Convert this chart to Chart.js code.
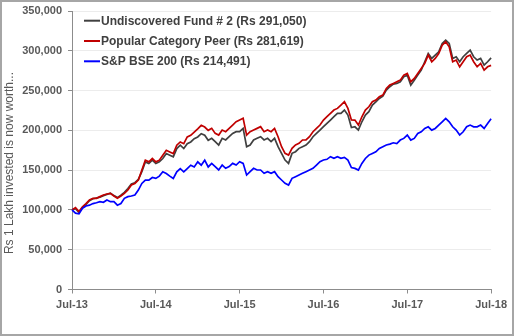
<!DOCTYPE html>
<html>
<head>
<meta charset="utf-8">
<script src="https://cdn.jsdelivr.net/npm/chart.js@4.4.1/dist/chart.umd.min.js"></script>
<style>
  html, body { margin: 0; padding: 0; background: #fff; }
  #wrap { width: 514px; height: 336px; box-sizing: border-box; border: 2px solid #a6a6a6; }
  canvas { display: block; }
</style>
</head>
<body>
<div id="wrap"><canvas id="perfChart" width="510" height="332"></canvas></div>
<script>
// half-monthly readings, Jul-13 .. Jul-18 (121 points)
const monthNames = ["Jan", "Feb", "Mar", "Apr", "May", "Jun", "Jul", "Aug", "Sep", "Oct", "Nov", "Dec"];
const dates = [];
for (let i = 0; i <= 120; i++) {
    const m = (6 + Math.floor(i / 2)) % 12;
    const yr = 13 + Math.floor((6 + Math.floor(i / 2)) / 12);
    dates.push((i % 2 ? "16-" : "01-") + monthNames[m] + "-" + yr);
}
const tickLabels = ["Jul-13", "Jul-14", "Jul-15", "Jul-16", "Jul-17", "Jul-18"];

const seriesNames = [
    "Undiscovered Fund # 2 (Rs 291,050)",
    "Popular Category Peer (Rs 281,619)",
    "S&P BSE 200 (Rs 214,491)"
];
const yTitle = "Rs 1 Lakh invested is now worth...";

const fund = [
    100000, 101500, 97000, 103000, 107000, 111500, 114000, 115000, 116000, 118000,
    119500, 121000, 118000, 115500, 118500, 122000, 127000, 132500, 134200, 138300,
    148000, 160400, 158300, 162500, 158300, 160400, 164600, 170800, 168800, 166700,
    177100, 181300, 177100, 183300, 185400, 189600, 191700, 195800, 193800, 187500,
    190000, 185800, 181600, 190000, 187900, 192000, 196200, 198300, 198300, 202500,
    179500, 181600, 187900, 190000, 192000, 187900, 190000, 185800, 190000, 179500,
    171100, 162700, 158500, 171100, 173200, 177400, 179500, 181600, 185800, 192000,
    196200, 200400, 204600, 208800, 213000, 217200, 221400, 221400, 225500, 219300,
    203500, 204500, 200300, 210800, 219200, 223400, 231700, 235900, 240100, 243000,
    250600, 254800, 258100, 259000, 261100, 267300, 269400, 256900, 263100, 269400,
    275700, 286200, 296600, 290400, 294600, 298700, 309200, 313400, 309200, 290400,
    292500, 286200, 292500, 296600, 300800, 292500, 288300, 290400, 282000, 286200,
    291050];

const peer = [
    100000, 103000, 98000, 104000, 108000, 112500, 114600, 114600, 116700, 118800,
    120000, 120800, 117500, 114600, 117500, 120800, 125000, 131300, 133300, 137500,
    150000, 162500, 160400, 164600, 160400, 162500, 168800, 175000, 172900, 170800,
    181300, 185400, 183300, 191700, 193800, 197900, 202000, 206300, 204200, 200000,
    202500, 196200, 194100, 200400, 198300, 202500, 206700, 210900, 213000, 215100,
    194100, 198300, 200400, 202500, 204600, 198300, 200400, 198300, 202500, 192000,
    179500, 171100, 169000, 177400, 181600, 183700, 187900, 187900, 192000, 198300,
    202500, 206700, 213000, 217200, 221400, 225500, 227600, 231800, 236000, 227600,
    213000, 212900, 206600, 217100, 225500, 229600, 235900, 238000, 242200, 244300,
    252700, 256900, 259000, 261100, 263100, 269400, 271500, 261100, 265200, 271500,
    277800, 284100, 294600, 286200, 290400, 296600, 307100, 311300, 305000, 286200,
    288300, 279900, 286200, 292500, 294600, 286200, 279900, 284100, 275700, 279900,
    281619];

const bse = [
    100000, 96000, 95000, 102000, 105000, 106000, 108000, 109000, 110400, 109600,
    112500, 110400, 110400, 106000, 108000, 114600, 116700, 117500, 118800, 125000,
    133300, 137500, 137500, 140800, 139600, 142500, 147900, 145800, 142500, 139600,
    147900, 152000, 147900, 152000, 156200, 154000, 160400, 156200, 162500, 154000,
    158500, 154400, 150200, 156400, 152300, 154400, 158500, 156400, 160600, 158500,
    143900, 148100, 152300, 150200, 150200, 146000, 148100, 146000, 148100, 141800,
    137600, 133400, 131300, 139700, 141800, 143900, 146000, 148100, 150200, 152300,
    156400, 160600, 162700, 163600, 166900, 164800, 166900, 164800, 166100, 162700,
    153300, 152200, 150100, 158400, 164700, 168900, 171000, 173100, 177300, 179400,
    181600, 182700, 184400, 183500, 187800, 189900, 194100, 187800, 189900, 196100,
    198200, 202400, 204500, 200300, 202400, 206600, 210800, 215000, 210800, 204500,
    200300, 194100, 198200, 204500, 206600, 204500, 204500, 206600, 202400, 208700,
    214491];

const colors = ["#404040", "#c00000", "#0000ff"];
const axisGray = "#8c8c8c";
const textGray = "#595959";
const fontFamily = "'Liberation Sans', Arial, sans-serif";

// which label index gets a year tick (every 24 half-months)
const yearTick = i => (i % 24 === 0 ? tickLabels[i / 24] : null);

// legend inside the plot (line sample + bold text) and the y title
const extras = {
    id: "extras",
    afterDatasetsDraw(chart) {
        const c = chart.ctx;
        const x0 = 82, y0 = 18.7, gap = 20.3;
        c.save();
        c.font = "bold 12px " + fontFamily;
        c.textBaseline = "middle";
        chart.data.datasets.forEach((ds, i) => {
            const y = y0 + i * gap;
            c.strokeStyle = ds.borderColor;
            c.lineWidth = 2;
            c.beginPath();
            c.moveTo(x0, y);
            c.lineTo(x0 + 16, y);
            c.stroke();
            c.fillStyle = "#404040";
            c.fillText(ds.label, x0 + 17, y + 0.5);
        });
        c.translate(8, 161);
        c.rotate(-Math.PI / 2);
        c.font = "12px " + fontFamily;
        c.fillStyle = textGray;
        c.textAlign = "center";
        c.fillText(yTitle, 0, 0);
        c.restore();
    }
};

new Chart(document.getElementById("perfChart").getContext("2d"), {
    type: "line",
    data: {
        labels: dates,
        datasets: [
            { label: seriesNames[0], data: fund, borderColor: colors[0], order: 3 },
            { label: seriesNames[1], data: peer, borderColor: colors[1], order: 2 },
            { label: seriesNames[2], data: bse, borderColor: colors[2], order: 1 }
        ]
    },
    options: {
        responsive: false,
        animation: false,
        layout: { padding: { left: 2, right: 20, top: 0, bottom: 0 } },
        elements: {
            line: { borderWidth: 1.7, tension: 0, fill: false },
            point: { radius: 0 }
        },
        plugins: { legend: { display: false }, tooltip: { enabled: false } },
        scales: {
            x: {
                offset: false,
                border: { color: axisGray, width: 1 },
                grid: {
                    drawOnChartArea: false,
                    tickLength: 4,
                    color: ctx => (yearTick(ctx.index) ? axisGray : "rgba(0,0,0,0)")
                },
                ticks: {
                    autoSkip: false,
                    maxRotation: 0,
                    padding: 5,
                    color: textGray,
                    font: { family: fontFamily, size: 11, weight: "bold" },
                    callback: (v, i) => yearTick(i) || ""
                },
                afterFit: s => { s.height = 44.5; }
            },
            y: {
                min: 0,
                max: 350000,
                border: { color: axisGray, width: 1 },
                grid: { color: "#ececec", tickColor: axisGray, tickLength: 4 },
                ticks: {
                    stepSize: 50000,
                    padding: 6,
                    color: textGray,
                    font: { family: fontFamily, size: 11, weight: "bold" },
                    callback: v => v.toLocaleString("en-US")
                },
                afterFit: s => { s.width = 68; s.paddingTop = 9; }
            }
        }
    },
    plugins: [extras]
});
</script>
</body>
</html>
